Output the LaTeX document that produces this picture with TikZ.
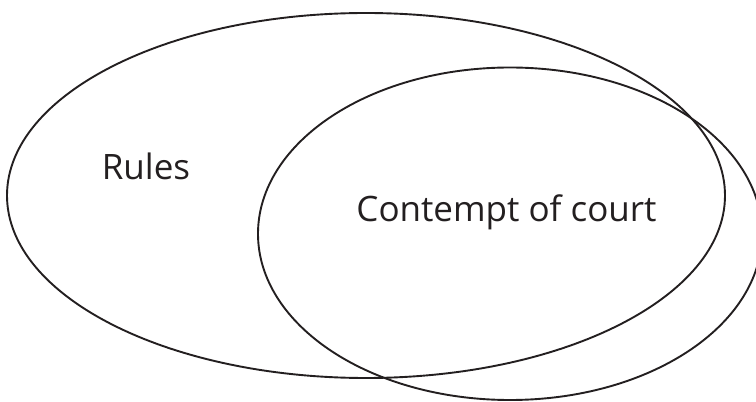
\documentclass[tikz,border=0pt]{standalone}
\usepackage{fontspec}
\setmainfont{Open Sans}
\usetikzlibrary{shapes.geometric}
\definecolor{ink}{HTML}{231F20}
\tikzset{
  setshape/.style={draw=ink, line width=1.9pt, ellipse, inner sep=0pt},
  setlabel/.style={anchor=base, inner sep=0pt, text=ink, font=\fontsize{35}{40}\selectfont}
}
\begin{document}
\begin{tikzpicture}[x=1pt,y=1pt]
\useasboundingbox (0,0) rectangle (756,402);
\node[setshape, minimum width=718pt, minimum height=365pt] (rules) at (366,206.5) {};
\node[setshape, minimum width=504pt, minimum height=332.5pt] (contempt) at (510,168.25) {};
\node[setlabel] (ruleslabel) at (146,222) {Rules};
\node[setlabel] (contemptlabel) at (506.5,180) {Contempt of court};
\end{tikzpicture}
\end{document}
